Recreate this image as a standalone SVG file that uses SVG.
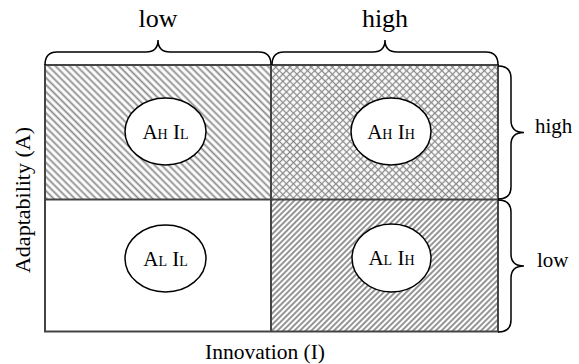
<svg xmlns="http://www.w3.org/2000/svg" width="579" height="364" viewBox="0 0 579 364">
<style>
.lbl{font-family:'Liberation Serif','DejaVu Serif',serif;fill:#000}
.brace{fill:none;stroke:#000;stroke-width:1.5}
.ell{fill:#fff;stroke:#000;stroke-width:1.5}
.grid{fill:none;stroke:#444;stroke-width:2}
.hl{stroke:#8a8a8a;stroke-width:1.8}
</style>
<defs>
<pattern id="bs" width="5" height="10" patternUnits="userSpaceOnUse" patternTransform="rotate(-45)">
<line class="hl" x1="2.5" y1="0" x2="2.5" y2="10"/>
</pattern>
<pattern id="fs" width="4" height="10" patternUnits="userSpaceOnUse" patternTransform="rotate(45)">
<line class="hl" x1="2" y1="0" x2="2" y2="10"/>
</pattern>
<pattern id="cx" width="5" height="5" patternUnits="userSpaceOnUse" patternTransform="rotate(45)">
<line class="hl" x1="2.5" y1="0" x2="2.5" y2="5" style="stroke-width:1.3"/>
<line class="hl" x1="0" y1="2.5" x2="5" y2="2.5" style="stroke-width:1.3"/>
</pattern>
</defs>
<rect width="579" height="364" fill="#fff"/>

<g id="cell-AH-IL">
<rect x="45" y="65" width="226" height="134.5" fill="url(#bs)"/>
<ellipse class="ell" cx="165.5" cy="131.5" rx="40.5" ry="33.5"/>
<text class="lbl" font-family="Liberation Serif, serif" x="165.5" y="138.5" text-anchor="middle" font-size="21">A<tspan font-size="14">H</tspan> I<tspan font-size="14">L</tspan></text>
</g>
<g id="cell-AH-IH">
<rect x="271" y="65" width="227" height="134.5" fill="url(#cx)"/>
<ellipse class="ell" cx="391" cy="131.5" rx="40" ry="33.5"/>
<text class="lbl" font-family="Liberation Serif, serif" x="391" y="138.5" text-anchor="middle" font-size="21">A<tspan font-size="14">H</tspan> I<tspan font-size="14">H</tspan></text>
</g>
<g id="cell-AL-IL">
<rect x="45" y="199.5" width="226" height="132" fill="#fff"/>
<ellipse class="ell" cx="165.5" cy="258.5" rx="40.5" ry="33.5"/>
<text class="lbl" font-family="Liberation Serif, serif" x="165.5" y="265.5" text-anchor="middle" font-size="21">A<tspan font-size="14">L</tspan> I<tspan font-size="14">L</tspan></text>
</g>
<g id="cell-AL-IH">
<rect x="271" y="199.5" width="227" height="132" fill="url(#fs)"/>
<ellipse class="ell" cx="391.5" cy="258" rx="39.5" ry="34"/>
<text class="lbl" font-family="Liberation Serif, serif" x="391.5" y="265" text-anchor="middle" font-size="21">A<tspan font-size="14">L</tspan> I<tspan font-size="14">H</tspan></text>
</g>

<g id="grid">
<rect class="grid" x="45" y="65" width="453" height="266.5"/>
<line class="grid" x1="271" y1="65" x2="271" y2="331.5"/>
<line class="grid" x1="45" y1="199.5" x2="498" y2="199.5"/>
</g>

<g id="braces">
<path class="brace" d="M45,65 Q45,52 57,52 L146,52 Q158,52 158,40 Q158,52 170,52 L259,52 Q271,52 271,65"/>
<path class="brace" d="M272,65 Q272,52 284,52 L373,52 Q385,52 385,40 Q385,52 397,52 L486,52 Q498,52 498,65"/>
<path class="brace" d="M498,66 Q511,66 511,78 L511,120.5 Q511,132.5 524,132.5 Q511,132.5 511,144.5 L511,187 Q511,199 498,199"/>
<path class="brace" d="M498,200 Q511,200 511,212 L511,254 Q511,266 524,266 Q511,266 511,278 L511,320 Q511,332 498,332"/>
</g>

<g id="labels" font-family="Liberation Serif, serif">
<text class="lbl" x="158" y="27" text-anchor="middle" font-size="26">low</text>
<text class="lbl" x="385" y="27" text-anchor="middle" font-size="26">high</text>
<text class="lbl" x="535" y="133" font-size="21">high</text>
<text class="lbl" x="537" y="267" font-size="21">low</text>
<text class="lbl" x="265" y="359" text-anchor="middle" font-size="21.5">Innovation (I)</text>
<text class="lbl" transform="translate(30,200) rotate(-90)" text-anchor="middle" font-size="22">Adaptability (A)</text>
</g>
</svg>
